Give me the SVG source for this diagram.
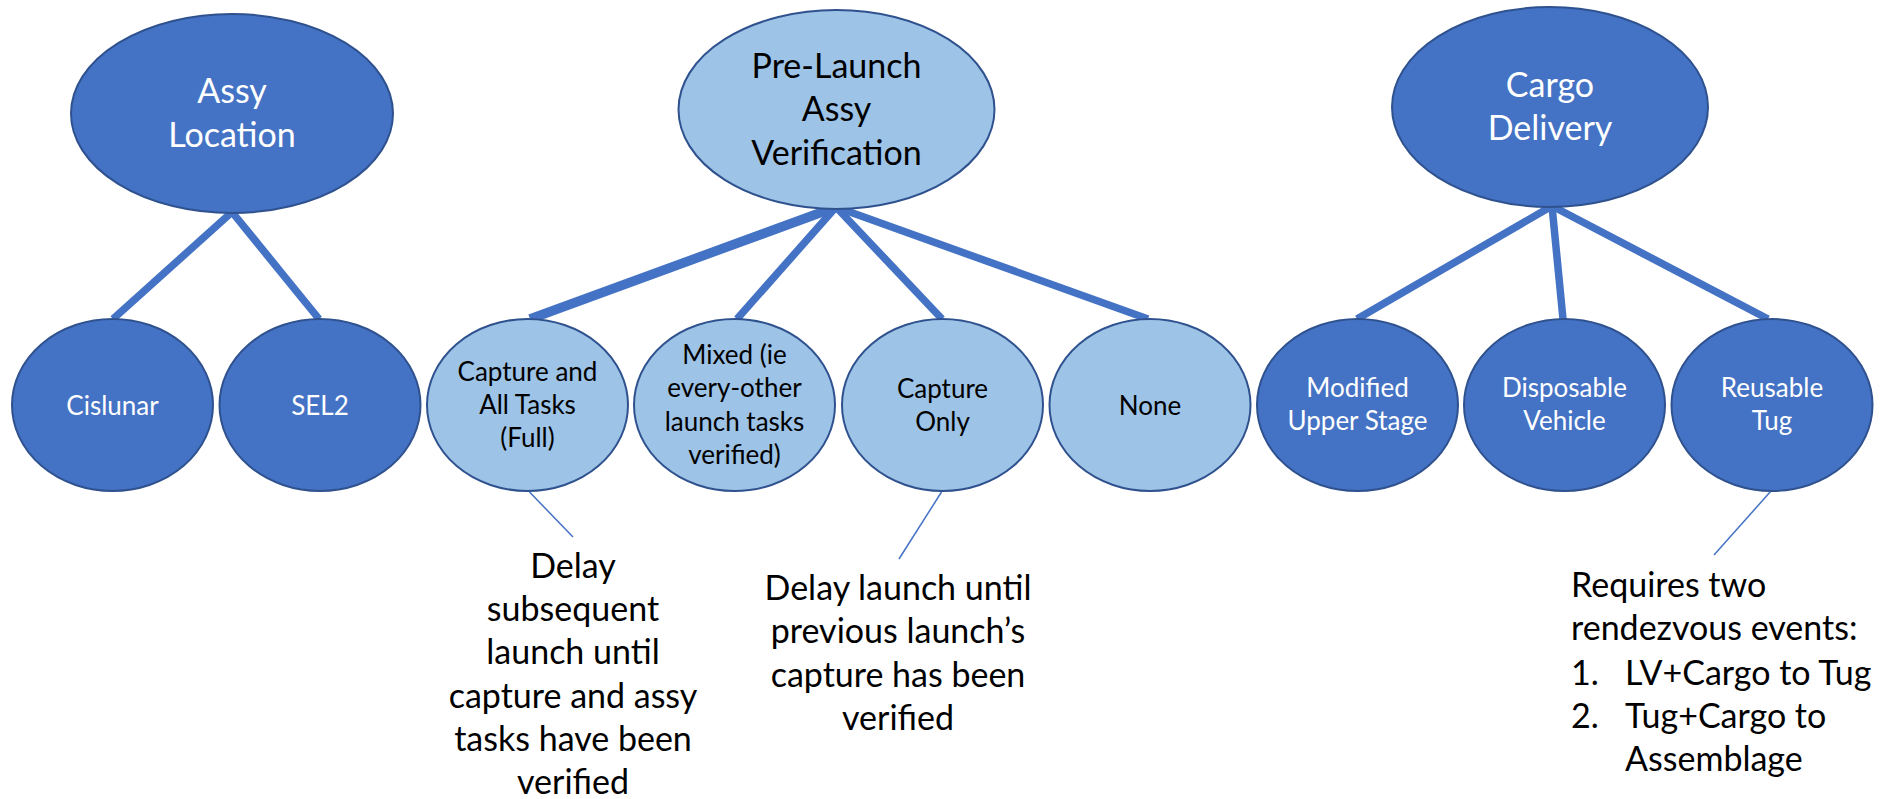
<svg xmlns="http://www.w3.org/2000/svg" width="1881" height="799" viewBox="0 0 1881 799">
  <style>
    .dark { fill: #4472C4; stroke: #2F528F; stroke-width: 2; }
    .light { fill: #9DC3E6; stroke: #2F528F; stroke-width: 2; }
    .t { font-family: Lato, "Liberation Sans", sans-serif; text-anchor: middle; }
    .big { font-size: 34px; }
    .small { font-size: 26px; }
    .w { fill: #FFFFFF; }
    .k { fill: #000000; }
    .edge { stroke: #4472C4; stroke-width: 7.5; fill: none; stroke-linecap: butt; }
    .thick { stroke-width: 9.5; }
    .callout { stroke: #4472C4; stroke-width: 1.5; fill: none; }
    .note { font-family: Lato, "Liberation Sans", sans-serif; font-size: 34px; fill: #000000; }
  </style>
  <rect width="1881" height="799" fill="#FFFFFF"/>

  <!-- tree edges and callout leaders -->
  <g id="connectors">
    <line class="edge" x1="232" y1="212" x2="113" y2="319"/>
    <line class="edge" x1="232" y1="212" x2="319" y2="319"/>
    <line class="edge thick" x1="836" y1="207" x2="530" y2="319"/>
    <line class="edge" x1="836" y1="207" x2="737" y2="319"/>
    <line class="edge" x1="836" y1="207" x2="942" y2="319"/>
    <line class="edge" x1="836" y1="207" x2="1148" y2="319"/>
    <line class="edge" x1="1552" y1="206" x2="1357" y2="319"/>
    <line class="edge" x1="1552" y1="206" x2="1563" y2="319"/>
    <line class="edge" x1="1552" y1="206" x2="1768" y2="319"/>
    <line class="callout" x1="529.5" y1="492" x2="573" y2="537"/>
    <line class="callout" x1="941.5" y1="492" x2="899" y2="559"/>
    <line class="callout" x1="1771" y1="491" x2="1714" y2="555"/>
  </g>

  <!-- parent nodes -->
  <g id="assy-location">
    <ellipse class="dark" cx="232" cy="113.5" rx="161" ry="99.5"/>
    <text class="t big w" x="232" y="103">Assy</text>
    <text class="t big w" x="232" y="147">Location</text>
  </g>
  <g id="pre-launch-verification">
    <ellipse class="light" cx="836.5" cy="109.5" rx="158" ry="99.5"/>
    <text class="t big k" x="836.5" y="78">Pre-Launch</text>
    <text class="t big k" x="836.5" y="121">Assy</text>
    <text class="t big k" x="836.5" y="165">Verification</text>
  </g>
  <g id="cargo-delivery">
    <ellipse class="dark" cx="1550" cy="107" rx="158" ry="100"/>
    <text class="t big w" x="1550" y="97">Cargo</text>
    <text class="t big w" x="1550" y="140">Delivery</text>
  </g>

  <!-- option nodes -->
  <g id="cislunar">
    <ellipse class="dark" cx="112.5" cy="405" rx="100.5" ry="86"/>
    <text class="t small w" x="112.5" y="415">Cislunar</text>
  </g>
  <g id="sel2">
    <ellipse class="dark" cx="320" cy="405" rx="100.5" ry="86"/>
    <text class="t small w" x="320" y="415">SEL2</text>
  </g>
  <g id="capture-all-tasks">
    <ellipse class="light" cx="527.5" cy="405" rx="100.5" ry="86"/>
    <text class="t small k" x="527.5" y="381">Capture and</text>
    <text class="t small k" x="527.5" y="414">All Tasks</text>
    <text class="t small k" x="527.5" y="447">(Full)</text>
  </g>
  <g id="mixed">
    <ellipse class="light" cx="734.5" cy="405" rx="100.5" ry="86"/>
    <text class="t small k" x="734.5" y="364">Mixed (ie</text>
    <text class="t small k" x="734.5" y="397">every-other</text>
    <text class="t small k" x="734.5" y="431">launch tasks</text>
    <text class="t small k" x="734.5" y="464">verified)</text>
  </g>
  <g id="capture-only">
    <ellipse class="light" cx="942.5" cy="405" rx="100.5" ry="86"/>
    <text class="t small k" x="942.5" y="398">Capture</text>
    <text class="t small k" x="942.5" y="431">Only</text>
  </g>
  <g id="none">
    <ellipse class="light" cx="1150" cy="405" rx="100.5" ry="86"/>
    <text class="t small k" x="1150" y="415">None</text>
  </g>
  <g id="modified-upper-stage">
    <ellipse class="dark" cx="1357.5" cy="405" rx="100.5" ry="86"/>
    <text class="t small w" x="1357.5" y="397">Modified</text>
    <text class="t small w" x="1357.5" y="430">Upper Stage</text>
  </g>
  <g id="disposable-vehicle">
    <ellipse class="dark" cx="1564.5" cy="405" rx="100.5" ry="86"/>
    <text class="t small w" x="1564.5" y="397">Disposable</text>
    <text class="t small w" x="1564.5" y="430">Vehicle</text>
  </g>
  <g id="reusable-tug">
    <ellipse class="dark" cx="1772" cy="405" rx="100.5" ry="86"/>
    <text class="t small w" x="1772" y="397">Reusable</text>
    <text class="t small w" x="1772" y="430">Tug</text>
  </g>

  <!-- notes -->
  <g id="note-full">
    <text class="note" text-anchor="middle" x="573" y="578">Delay</text>
    <text class="note" text-anchor="middle" x="573" y="621">subsequent</text>
    <text class="note" text-anchor="middle" x="573" y="664">launch until</text>
    <text class="note" text-anchor="middle" x="573" y="708">capture and assy</text>
    <text class="note" text-anchor="middle" x="573" y="751">tasks have been</text>
    <text class="note" text-anchor="middle" x="573" y="794">verified</text>
  </g>
  <g id="note-capture-only">
    <text class="note" text-anchor="middle" x="898" y="600">Delay launch until</text>
    <text class="note" text-anchor="middle" x="898" y="643">previous launch’s</text>
    <text class="note" text-anchor="middle" x="898" y="687">capture has been</text>
    <text class="note" text-anchor="middle" x="898" y="730">verified</text>
  </g>
  <g id="note-tug">
    <text class="note" x="1571" y="597">Requires two</text>
    <text class="note" x="1571" y="640">rendezvous events:</text>
    <text class="note" x="1571" y="685">1.</text>
    <text class="note" x="1625" y="685">LV+Cargo to Tug</text>
    <text class="note" x="1571" y="728">2.</text>
    <text class="note" x="1625" y="728">Tug+Cargo to</text>
    <text class="note" x="1625" y="771">Assemblage</text>
  </g>
</svg>
